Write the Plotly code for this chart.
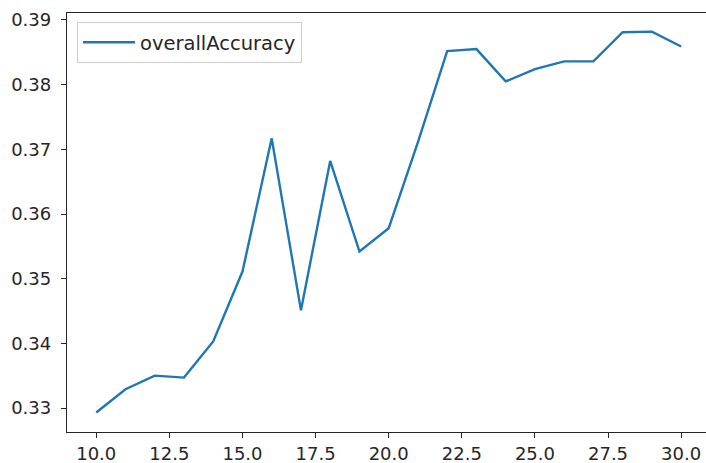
import plotly.graph_objects as go

epochs = list(range(10, 31))
overall_accuracy = [0.3293, 0.3329, 0.3350, 0.3347, 0.3403, 0.3511, 0.3717, 0.3451,
                    0.3682, 0.3542, 0.3578, 0.3711, 0.3852, 0.3855, 0.3805, 0.3824,
                    0.3836, 0.3836, 0.3881, 0.3882, 0.3859]
x_ticks = [10.0, 12.5, 15.0, 17.5, 20.0, 22.5, 25.0, 27.5, 30.0]
x_tick_labels = ["10.0", "12.5", "15.0", "17.5", "20.0", "22.5", "25.0", "27.5", "30.0"]
y_ticks = [0.33, 0.34, 0.35, 0.36, 0.37, 0.38, 0.39]
y_tick_labels = ["0.33", "0.34", "0.35", "0.36", "0.37", "0.38", "0.39"]

font_family = "DejaVu Sans"
text_color = "#262626"

fig = go.Figure()
fig.add_trace(go.Scatter(
    x=epochs, y=overall_accuracy, mode="lines", name="overallAccuracy",
    line=dict(color="#1f77b4", width=2.4),
))

fig.update_layout(
    width=706, height=463,
    margin=dict(l=67, r=0, t=13, b=31),
    paper_bgcolor="white", plot_bgcolor="white",
    font=dict(family=font_family, size=18, color=text_color),
    showlegend=True,
    legend=dict(
        x=0.0156, y=0.9785, xanchor="left", yanchor="top",
        bordercolor="#d0d0d0", borderwidth=1, bgcolor="rgba(255,255,255,0.8)",
        font=dict(family=font_family, size=19.5, color=text_color),
        itemwidth=52,
    ),
    xaxis=dict(
        range=[9, 30.85], tickmode="array", tickvals=x_ticks, ticktext=x_tick_labels,
        showgrid=False, zeroline=False, showline=True, linecolor=text_color, linewidth=1.3,
        mirror=True, ticks="outside", ticklen=5, tickcolor=text_color, tickwidth=1.3,
        tickfont=dict(family=font_family, size=18, color=text_color),
        automargin=False,
    ),
    yaxis=dict(
        range=[0.32629, 0.39108], tickmode="array", tickvals=y_ticks, ticktext=y_tick_labels,
        showgrid=False, zeroline=False, showline=True, linecolor=text_color, linewidth=1.3,
        mirror=False, ticks="outside", ticklen=5, tickcolor=text_color, tickwidth=1.3,
        tickfont=dict(family=font_family, size=18, color=text_color),
        ticklabelstandoff=6, automargin=False,
    ),
)

fig.write_html(
    "out.html",
    config={"displayModeBar": False},
    post_script="document.body.style.margin='0';document.body.style.padding='0';",
)
